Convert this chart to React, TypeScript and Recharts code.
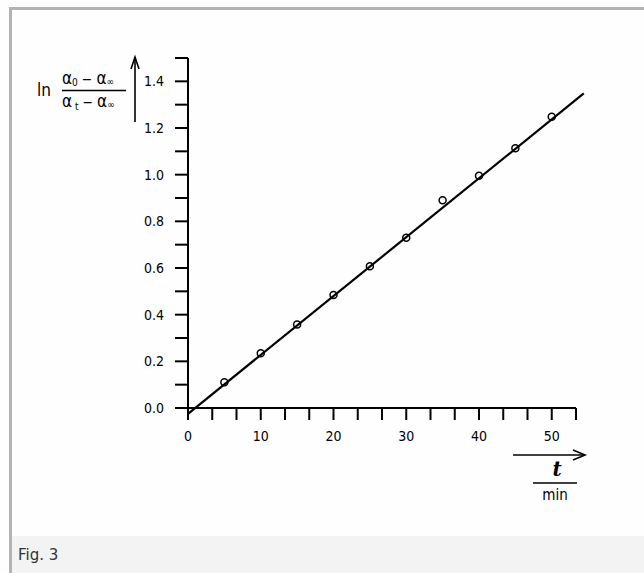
import React from 'react';
import { ComposedChart, Scatter, XAxis, YAxis, ReferenceLine } from 'recharts';

// measured points: time in min vs ln((a0 - ainf)/(at - ainf))
const tMin = [5, 10, 15, 20, 25, 30, 35, 40, 45, 50];
const lnRatio = [0.11, 0.235, 0.358, 0.484, 0.607, 0.73, 0.89, 0.995, 1.113, 1.248];

// fitted straight line, two end points
const fitT = [0, 54.4];
const fitLn = [-0.025, 1.348];

const xTicks = [0, 10 / 3, 20 / 3, 10, 40 / 3, 50 / 3, 20, 70 / 3, 80 / 3, 30, 100 / 3, 110 / 3, 40, 130 / 3, 140 / 3, 50, 160 / 3];
const yTicks = [0, 0.1, 0.2, 0.3, 0.4, 0.5, 0.6, 0.7, 0.8, 0.9, 1.0, 1.1, 1.2, 1.3, 1.4, 1.5];

const FONT = '"DejaVu Sans Condensed", "Liberation Sans Narrow", "DejaVu Sans", sans-serif';

const points = tMin.map((t, i) => ({ t, v: lnRatio[i] }));

const OpenCircle = (props: any) => {
  const { cx, cy } = props;
  return <circle cx={cx} cy={cy} r={3.5} fill="none" stroke="#000" strokeWidth={1.5} />;
};

const xLabel = (v: number) => {
  const r = Math.round(v);
  return Math.abs(v - r) < 0.01 && r % 10 === 0 ? String(r) : '';
};

const yLabel = (v: number) => {
  const r = Math.round(v * 10);
  return r % 2 === 0 ? (r / 10).toFixed(1) : '';
};

export default function App() {
  const tickStyle = { fontFamily: FONT, fontSize: 14, fill: '#000' };
  return (
    <div style={{ position: 'absolute', left: 0, top: 0, width: 644, height: 573, background: '#fefefe', overflow: 'hidden' }}>
      {/* frame */}
      <div style={{ position: 'absolute', left: 9, top: 7, width: 640, height: 570, borderLeft: '3px solid #b3b3b3', borderTop: '3px solid #b3b3b3', boxSizing: 'border-box' }} />
      {/* caption strip */}
      <div style={{ position: 'absolute', left: 12, top: 536, width: 632, height: 37, background: '#f3f3f3' }} />
      <div style={{ position: 'absolute', left: 18, top: 546, fontFamily: '"DejaVu Sans", sans-serif', fontSize: 15, color: '#333', lineHeight: '18px' }}>Fig. 3</div>

      <div style={{ position: 'absolute', left: 0, top: 0 }}>
        <ComposedChart width={644} height={573} margin={{ top: 58, right: 68, bottom: 135, left: 128 }} data={points}>
          <XAxis
            dataKey="t"
            type="number"
            domain={[0, 160 / 3]}
            ticks={xTicks}
            tickFormatter={xLabel}
            tickSize={12}
            tickMargin={11}
            height={30}
            stroke="#000"
            strokeWidth={2}
            tick={tickStyle}
            interval={0}
          />
          <YAxis
            dataKey="v"
            type="number"
            domain={[0, 1.5]}
            ticks={yTicks}
            tickFormatter={yLabel}
            tickSize={13}
            tickMargin={11}
            width={60}
            stroke="#000"
            strokeWidth={2}
            tick={tickStyle}
            interval={0}
          />
          <ReferenceLine
            segment={[{ x: fitT[0], y: fitLn[0] }, { x: fitT[1], y: fitLn[1] }]}
            stroke="#000"
            strokeWidth={2.2}
            ifOverflow="visible"
          />
          <Scatter dataKey="v" shape={OpenCircle} isAnimationActive={false} />
        </ComposedChart>
      </div>

      {/* axis titles */}
      <svg width={644} height={573} style={{ position: 'absolute', left: 0, top: 0, pointerEvents: 'none' }}>
        <g fontFamily={FONT} fill="#000">
          <text x={37} y={96} fontSize={17}>ln</text>
          <text x={62} y={84} fontSize={17}>
            α<tspan fontSize={10} dy={2}>0</tspan>
            <tspan dy={-2} fontSize={14}> − </tspan>
            α<tspan fontSize={10} dy={1}>∞</tspan>
          </text>
          <line x1={62} y1={90.5} x2={126} y2={90.5} stroke="#000" strokeWidth={1.4} />
          <text x={62} y={107} fontSize={17}>
            α<tspan fontSize={10} dy={3}> t</tspan>
            <tspan dy={-3} fontSize={14}> − </tspan>
            α<tspan fontSize={10} dy={1}>∞</tspan>
          </text>
          <line x1={135} y1={57} x2={135} y2={122} stroke="#000" strokeWidth={1.6} />
          <polyline points="131,69 135,57 139,69" fill="none" stroke="#000" strokeWidth={1.6} />

          <line x1={513} y1={455} x2={585} y2={455} stroke="#000" strokeWidth={1.6} />
          <polyline points="573,450 585,455 573,460" fill="none" stroke="#000" strokeWidth={1.6} />
          <text x={557} y={476} fontSize={20} fontStyle="italic" fontWeight="bold" textAnchor="middle" fontFamily='"DejaVu Serif", serif'>t</text>
          <line x1={533} y1={483} x2={577} y2={483} stroke="#000" strokeWidth={1.4} />
          <text x={555} y={500} fontSize={15} textAnchor="middle">min</text>
        </g>
      </svg>
    </div>
  );
}
